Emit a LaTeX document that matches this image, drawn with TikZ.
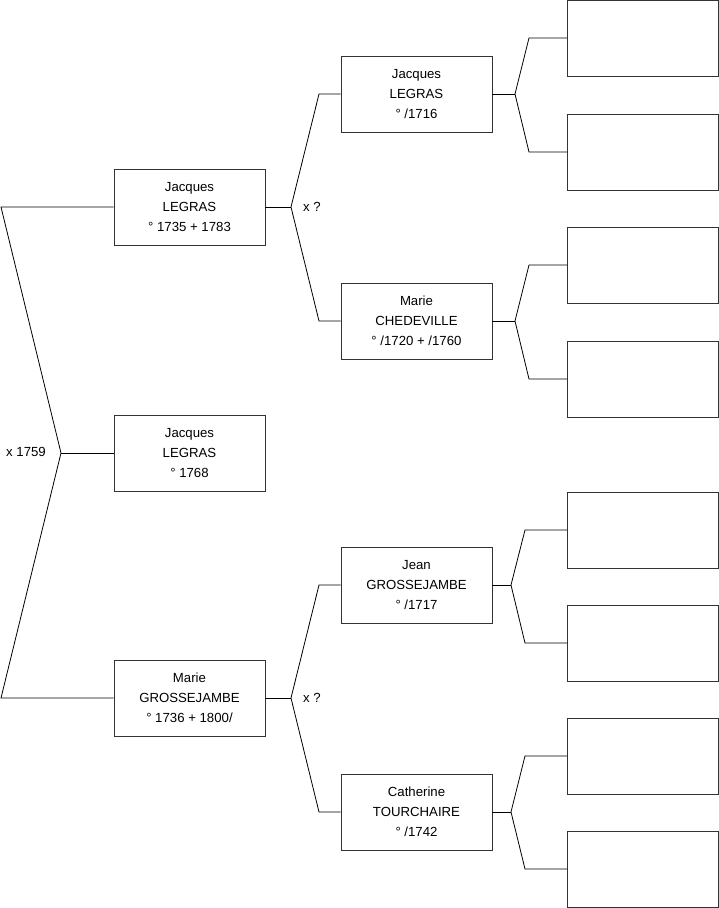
\documentclass[tikz,border=0pt]{standalone}
\usepackage{fontspec}
\setmainfont{Liberation Sans}
\usepackage{tikz}
\usetikzlibrary{positioning}

\begin{document}
\begin{tikzpicture}[
    x=1pt, y=-1pt,
    person/.style={
      rectangle, draw=black!80, line width=0.9pt, fill=white,
      font=\fontsize{13.2}{20}\selectfont,
      minimum width=151pt, minimum height=76pt,
      align=center, inner sep=0pt
    },
    branch/.style={draw=black, line width=0.8pt},
    union/.style={font=\fontsize{13.2}{15}\selectfont, inner sep=0pt}
  ]
    \useasboundingbox (0,0) rectangle (719,908);

    % ── Generation 1 ─────────────────────────────────────────────────────
    \node[person] (father) at (189.5,207) {Jacques\\LEGRAS\\° 1735 + 1783};
    \node[person] (child)  at (189.5,453) {Jacques\\LEGRAS\\° 1768};
    \node[person] (mother) at (189.5,698) {Marie\\GROSSEJAMBE\\° 1736 + 1800/};

    % ── Generation 2 ─────────────────────────────────────────────────────
    \node[person] (ff) at (416.5,94)  {Jacques\\LEGRAS\\° /1716};
    \node[person] (fm) at (416.5,321) {Marie\\CHEDEVILLE\\° /1720 + /1760};
    \node[person] (mf) at (416.5,585) {Jean\\GROSSEJAMBE\\° /1717};
    \node[person] (mm) at (416.5,812) {Catherine\\TOURCHAIRE\\° /1742};

    % ── Generation 3 (empty) ─────────────────────────────────────────────
    \node[person] (fff) at (643,38)  {};
    \node[person] (ffm) at (643,152) {};
    \node[person] (fmf) at (643,265) {};
    \node[person] (fmm) at (643,379) {};
    \node[person] (mff) at (643,530) {};
    \node[person] (mfm) at (643,643) {};
    \node[person] (mmf) at (643,756) {};
    \node[person] (mmm) at (643,869) {};

    % ── Marriage labels ──────────────────────────────────────────────────
    \node[union] (u0) at (26,452)  {x 1759};
    \node[union] (u1) at (312,207) {x ?};
    \node[union] (u2) at (312,698) {x ?};

    % ── Fork points ──────────────────────────────────────────────────────
    \coordinate (k0)  at (61,453);
    \coordinate (k0a) at (1,207);
    \coordinate (k0b) at (1,698);

    \coordinate (k1)  at (291,207);
    \coordinate (k1a) at (319,94);
    \coordinate (k1b) at (319,321);
    \coordinate (k2)  at (291,698);
    \coordinate (k2a) at (319,585);
    \coordinate (k2b) at (319,812);

    \coordinate (k3)  at (515,94);
    \coordinate (k3a) at (529,38);
    \coordinate (k3b) at (529,152);
    \coordinate (k4)  at (515,321);
    \coordinate (k4a) at (529,265);
    \coordinate (k4b) at (529,379);
    \coordinate (k5)  at (511,585);
    \coordinate (k5a) at (525,530);
    \coordinate (k5b) at (525,643);
    \coordinate (k6)  at (511,812);
    \coordinate (k6a) at (525,756);
    \coordinate (k6b) at (525,869);

    % ── Branches ─────────────────────────────────────────────────────────
    \draw[branch] (father.west) -- (k0a) -- (k0) -- (k0b) -- (mother.west);
    \draw[branch] (k0) -- (child.west);

    \draw[branch] (father.east) -- (k1);
    \draw[branch] (ff.west) -- (k1a) -- (k1) -- (k1b) -- (fm.west);
    \draw[branch] (mother.east) -- (k2);
    \draw[branch] (mf.west) -- (k2a) -- (k2) -- (k2b) -- (mm.west);

    \draw[branch] (ff.east) -- (k3);
    \draw[branch] (fff.west) -- (k3a) -- (k3) -- (k3b) -- (ffm.west);
    \draw[branch] (fm.east) -- (k4);
    \draw[branch] (fmf.west) -- (k4a) -- (k4) -- (k4b) -- (fmm.west);
    \draw[branch] (mf.east) -- (k5);
    \draw[branch] (mff.west) -- (k5a) -- (k5) -- (k5b) -- (mfm.west);
    \draw[branch] (mm.east) -- (k6);
    \draw[branch] (mmf.west) -- (k6a) -- (k6) -- (k6b) -- (mmm.west);

\end{tikzpicture}
\end{document}
